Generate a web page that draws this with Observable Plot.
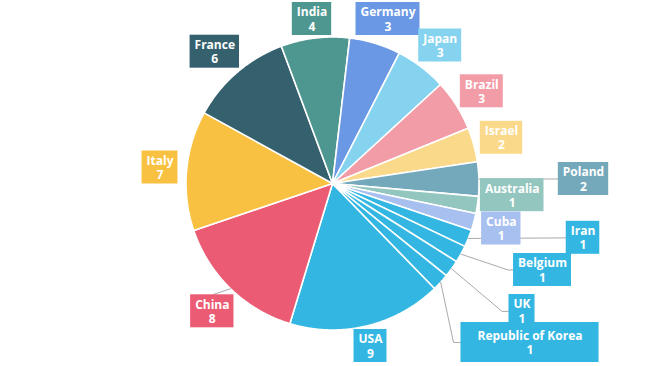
<!DOCTYPE html>
<html>
<head>
<meta charset="utf-8">
<script src="https://cdn.jsdelivr.net/npm/d3@7"></script>
<script src="https://cdn.jsdelivr.net/npm/@observablehq/plot@0.6"></script>
<style>
  html, body { margin: 0; padding: 0; background: #fff; }
  #chart svg { display: block; }
</style>
</head>
<body>
<div id="chart"></div>
<script>
// ---- data ----
const countries = ["USA", "China", "Italy", "France", "India", "Germany", "Japan", "Brazil",
  "Israel", "Poland", "Australia", "Cuba", "Iran", "Belgium", "UK", "Republic of Korea"];
const counts = [9, 8, 7, 6, 4, 3, 3, 3, 2, 2, 1, 1, 1, 1, 1, 1];

// ---- styles ----
const palette = ["#33b7e2", "#eb5b74", "#f9c142", "#35616f", "#4e9790", "#6a98e4", "#85d3ee", "#f29ca7",
  "#fbd98a", "#74a9bc", "#93c6be", "#a7c0f0", "#33b7e2", "#33b7e2", "#33b7e2", "#33b7e2"];

// ---- layout (pixels) ----
const W = 664, H = 366;
const CX = 332, CY = 183, R = 146.5;
const START_DEG = 135.8;
const FONT = "bold 12px 'Open Sans'";
const labelLayout = {
  "USA": {at: [370, 345.5]},
  "China": {at: [211.8, 310.8], bend: [212.7, 294]},
  "Italy": {at: [159.5, 167]},
  "France": {at: [214.3, 51.2]},
  "India": {at: [311.5, 18.5]},
  "Germany": {at: [387.5, 18.5]},
  "Japan": {at: [439.7, 45]},
  "Brazil": {at: [481.3, 90.8]},
  "Israel": {at: [501, 137.3]},
  "Poland": {at: [583, 178.5], line: true},
  "Australia": {at: [511.7, 194.7]},
  "Cuba": {at: [500.8, 228]},
  "Iran": {at: [582.5, 237.3], line: true},
  "Belgium": {at: [542, 269.5], bend: [507.7, 269.5]},
  "UK": {at: [521.5, 310.5], bend: [501.7, 311]},
  "Republic of Korea": {at: [529.5, 342], bend: [453, 342], padX: 16.5, padY: 6}
};

// px -> data units
const ux = px => (px - CX) / R;
const uy = py => (py - CY) / R;

// ---- pie geometry ----
const data = countries.map((name, i) => ({name, value: counts[i], color: palette[i]}));
const start = START_DEG * Math.PI / 180;
const arcs = d3.pie().sort(null).value(d => d.value).startAngle(start).endAngle(start + 2 * Math.PI)(data);

const slicePts = [];
for (const a of arcs) {
  slicePts.push({name: a.data.name, color: a.data.color, x: 0, y: 0});
  const n = Math.max(2, Math.ceil((a.endAngle - a.startAngle) / (Math.PI / 360)));
  for (let k = 0; k <= n; k++) {
    const t = a.startAngle + (a.endAngle - a.startAngle) * k / n;
    slicePts.push({name: a.data.name, color: a.data.color, x: Math.sin(t), y: -Math.cos(t)});
  }
  slicePts.push({name: a.data.name, color: a.data.color, x: 0, y: 0});
}

// ---- labels ----
const ctx = document.createElement("canvas").getContext("2d");
ctx.font = FONT;
const labels = arcs.map(a => {
  const L = labelLayout[a.data.name];
  const tw = Math.max(ctx.measureText(a.data.name).width, ctx.measureText(String(a.data.value)).width);
  const padX = L.padX ?? 4.5, padY = L.padY ?? 2.5;
  const w = tw + 2 * padX, h = 28 + 2 * padY;
  return {
    name: a.data.name, value: a.data.value, color: a.data.color,
    x: ux(L.at[0]), y: uy(L.at[1]),
    x1: ux(L.at[0] - w / 2), x2: ux(L.at[0] + w / 2),
    y1: uy(L.at[1] - h / 2), y2: uy(L.at[1] + h / 2)
  };
});

const leaderPts = [];
for (const a of arcs) {
  const L = labelLayout[a.data.name];
  if (!L.bend && !L.line) continue;
  const mid = (a.startAngle + a.endAngle) / 2;
  leaderPts.push({name: a.data.name, x: Math.sin(mid), y: -Math.cos(mid)});
  if (L.bend) leaderPts.push({name: a.data.name, x: ux(L.bend[0]), y: uy(L.bend[1])});
  leaderPts.push({name: a.data.name, x: ux(L.at[0]), y: uy(L.at[1])});
}

const chart = Plot.plot({
  width: W,
  height: H,
  x: {domain: [-1, 1], range: [CX - R, CX + R], axis: null},
  y: {domain: [-1, 1], range: [CY - R, CY + R], axis: null},
  color: {type: "identity"},
  style: {background: "#fff"},
  marks: [
    Plot.line(slicePts, {x: "x", y: "y", z: "name", fill: "color", stroke: "white",
      strokeWidth: 1.6, strokeLinejoin: "round", curve: "linear"}),
    Plot.line(leaderPts, {x: "x", y: "y", z: "name", stroke: "#aaaaaa", strokeWidth: 1, curve: "linear"}),
    Plot.rect(labels, {x1: "x1", x2: "x2", y1: "y1", y2: "y2", fill: "color"}),
    Plot.text(labels, {x: "x", y: "y", text: d => d.name + "\n" + d.value, fill: "white",
      fontWeight: "bold", fontSize: 12, fontFamily: "'Open Sans', sans-serif", lineHeight: 1.17})
  ]
});
document.getElementById("chart").appendChild(chart);
</script>
</body>
</html>
